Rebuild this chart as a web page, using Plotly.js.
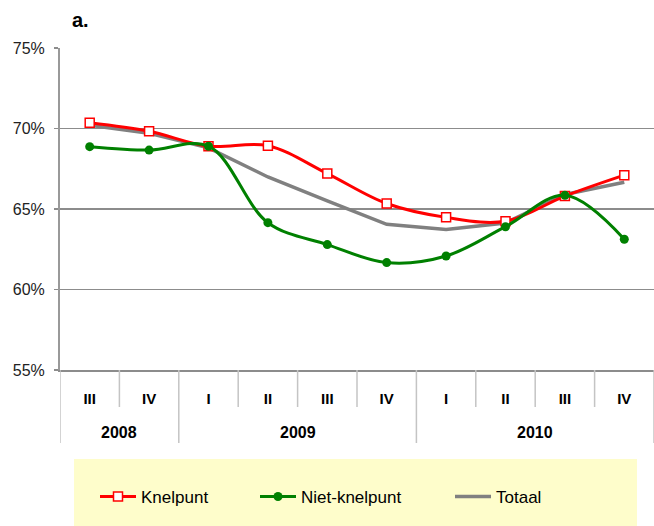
<!DOCTYPE html>
<html><head><meta charset="utf-8">
<script src="https://cdn.plot.ly/plotly-3.0.1.min.js"></script>
<style>html,body{margin:0;padding:0;background:#fff}</style>
</head><body><div id="chart" style="width:654px;height:526px"></div>
<script>
const years = ['2008','2008','2009','2009','2009','2009','2010','2010','2010','2010'];
const quarters = ['III','IV','I','II','III','IV','I','II','III','IV'];
const knelpunt = [70.36,69.83,68.9,68.93,67.2,65.34,64.48,64.24,65.8,67.1];
const nietKnelpunt = [68.87,68.66,68.9,64.15,62.79,61.67,62.08,63.9,65.85,63.12];
const totaal = [70.2,69.7,68.8,66.99,65.5,64.05,63.72,64.13,65.9,66.66];
const seriesNames = ['Knelpunt','Niet-knelpunt','Totaal'];
const yTickVals = [55,60,65,70,75];

const FONT = 'Liberation Sans, Arial, sans-serif';
const xKeys = years.map((y,i)=> y + ' ' + quarters[i]);

const traces = [
  {x:xKeys, y:totaal, name:seriesNames[2], type:'scatter', mode:'lines',
   line:{color:'#808080', width:3.5}, legend:'legend3', hoverinfo:'skip'},
  {x:xKeys, y:knelpunt, name:seriesNames[0], type:'scatter', mode:'lines+markers',
   line:{color:'#FF0000', width:3, shape:'spline'},
   marker:{symbol:'square', size:9, color:'#FFFFFF', line:{color:'#FF0000', width:1.5}},
   legend:'legend', hoverinfo:'skip'},
  {x:xKeys, y:nietKnelpunt, name:seriesNames[1], type:'scatter', mode:'lines+markers',
   line:{color:'#008000', width:3, shape:'spline'},
   marker:{symbol:'circle', size:9, color:'#008000'},
   legend:'legend2', hoverinfo:'skip'}
];

// Year groups (derived from the years array)
const groups = [];
years.forEach((y,i)=>{
  if (!groups.length || groups[groups.length-1].year !== y) groups.push({year:y, start:i, end:i});
  else groups[groups.length-1].end = i;
});

const PLOT_TOP = 48, PLOT_BOTTOM = 370, PLOT_H = PLOT_BOTTOM - PLOT_TOP;
const py = px => (PLOT_BOTTOM - px) / PLOT_H;

const shapes = [{type:'rect', xref:'paper', yref:'paper', x0:(74-60)/594, x1:(637-60)/594,
           y0:py(459), y1:py(526), fillcolor:'#FEFDCB', line:{width:0}, layer:'below'}];
const yearStarts = new Set(groups.map(g=>g.start));
for (let i = 0; i <= years.length; i++) {
  const isYear = yearStarts.has(i) || i === years.length;
  shapes.push({type:'line', xref:'x', yref:'paper', x0:i-0.5, x1:i-0.5,
    y0:0, y1:py(isYear ? 443 : 407), line:{color:'#c4c4c4', width:1.5}});
}
const annotations = groups.map(g=>({
  text:'<b>'+g.year+'</b>', xref:'x', yref:'paper', x:(g.start+g.end)/2, y:py(432),
  xanchor:'center', yanchor:'middle', showarrow:false,
  font:{family:FONT, size:16, color:'#000'}
}));

const legendBase = {orientation:'h', yanchor:'middle', xanchor:'left', y:py(497),
  bgcolor:'rgba(0,0,0,0)', font:{family:FONT, size:17, color:'#000'}, itemwidth:36};

const layout = {
  width:654, height:526,
  margin:{l:60, r:0, t:48, b:156},
  paper_bgcolor:'#FFFFFF', plot_bgcolor:'#FFFFFF',
  font:{family:FONT, color:'#000'},
  title:{text:'<b>a.</b>', font:{family:FONT, size:20, color:'#000'},
         xref:'container', x:72/654, xanchor:'left', yref:'container', y:1-20/526, yanchor:'middle'},
  xaxis:{type:'category', tickvals:xKeys, ticktext:quarters, range:[-0.5, years.length-0.5],
         showline:true, linecolor:'#8c8c8c', linewidth:2, ticks:'',
         ticklabelstandoff:14,
         tickfont:{family:FONT, size:15, weight:'bold', color:'#000'},
         showgrid:false, zeroline:false, fixedrange:true},
  yaxis:{range:[55,75], tickvals:yTickVals, ticktext:yTickVals.map(v=>v+'%'),
         showgrid:true, gridcolor:'#8c8c8c', gridwidth:1.5,
         showline:true, linecolor:'#999999', linewidth:2,
         ticks:'outside', ticklen:4, tickcolor:'#8c8c8c', tickwidth:1.5,
         ticklabelstandoff:6,
         tickfont:{family:FONT, size:16, color:'#222'}, zeroline:false, fixedrange:true},
  legend:Object.assign({}, legendBase, {x:(95-60)/594}),
  legend2:Object.assign({}, legendBase, {x:(255-60)/594}),
  legend3:Object.assign({}, legendBase, {x:(450-60)/594}),
  shapes:shapes,
  annotations:annotations,
  showlegend:true
};

Plotly.newPlot('chart', traces, layout, {displayModeBar:false, staticPlot:true});
</script></body></html>
